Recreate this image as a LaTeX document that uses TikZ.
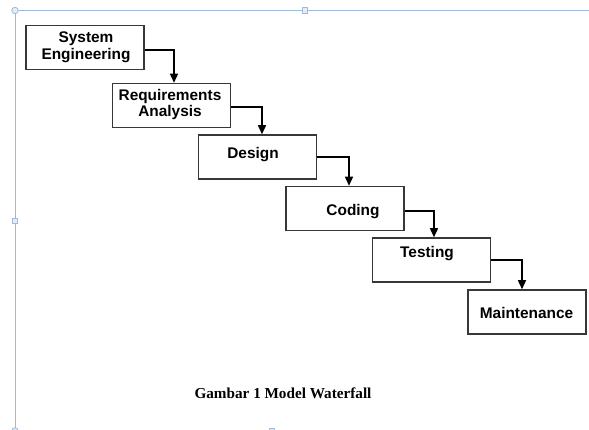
\documentclass[tikz,border=0pt]{standalone}
\usepackage{fontspec}
\setmainfont{Liberation Serif}
\newfontfamily\boxfont{Liberation Sans}
\usetikzlibrary{arrows.meta}
\definecolor{frameblue}{RGB}{160,186,218}
\definecolor{handlefill}{RGB}{225,238,250}
\definecolor{boxline}{RGB}{55,55,55}
\tikzset{
  stagebox/.style={draw=boxline, line width=1.5pt, minimum width=118pt, minimum height=44pt, inner sep=0pt},
  stagetext/.style={font=\boxfont\bfseries\fontsize{15.4}{16.8}\selectfont, align=center, inner sep=0pt},
  flow/.style={draw=black, line width=1.4pt, -{Triangle[width=8pt,length=9pt]}},
  selframe/.style={draw=frameblue, line width=0.9pt},
  roundhandle/.style={draw=frameblue, fill=handlefill, line width=0.8pt, circle, minimum size=6.5pt, inner sep=0pt},
  squarehandle/.style={draw=frameblue, fill=handlefill, line width=0.8pt, rectangle, minimum size=5.5pt, inner sep=0pt},
}
\begin{document}
\begin{tikzpicture}[x=1pt,y=-1pt]
\useasboundingbox (0,0) rectangle (589,430);
\fill[white] (0,0) rectangle (589,430);

% selection frame of the embedded object
\coordinate (ftl) at (15,10.5);
\coordinate (ftr) at (589,10.5);
\coordinate (fbl) at (15,432);
\draw[selframe] (ftr) -- (ftl) -- (fbl);
\node[roundhandle] (h1) at (15,10.5) {};
\node[squarehandle] (h2) at (305,10.5) {};
\node[squarehandle] (h3) at (15,221) {};
\node[roundhandle] (h4) at (15,431) {};
\node[squarehandle] (h5) at (272,431) {};

% the stages of the waterfall
\node[stagebox] (se) at (85,47.5) {};
\node[stagebox] (ra) at (171.5,105.5) {};
\node[stagebox] (de) at (257.5,157) {};
\node[stagebox] (co) at (345,208.5) {};
\node[stagebox] (te) at (431.5,260) {};
\node[stagebox] (ma) at (527,312) {};

\node[stagetext] (se-t) at (86,47.5) {System\\Engineering};
\node[stagetext] (ra-t) at (170,104.5) {Requirements\\Analysis};
\node[stagetext] (de-t) at (253,155) {Design};
\node[stagetext] (co-t) at (353,212) {Coding};
\node[stagetext] (te-t) at (427,254) {Testing};
\node[stagetext] (ma-t) at (526.5,313) {Maintenance};

% connectors: out of the right side, then down into the next stage
\draw[flow] (se.east |- 0,50) -| (ra.north -| 174,0);
\draw[flow] (ra.east |- 0,107) -| (de.north -| 262,0);
\draw[flow] (de.east |- 0,157) -| (co.north -| 349,0);
\draw[flow] (co.east |- 0,211) -| (te.north -| 434,0);
\draw[flow] (te.east |- 0,260) -| (ma.north -| 522,0);

% caption
\node[font=\bfseries\fontsize{15.2}{17}\selectfont, inner sep=0pt] (cap) at (283,393) {Gambar 1 Model Waterfall};
\end{tikzpicture}
\end{document}
